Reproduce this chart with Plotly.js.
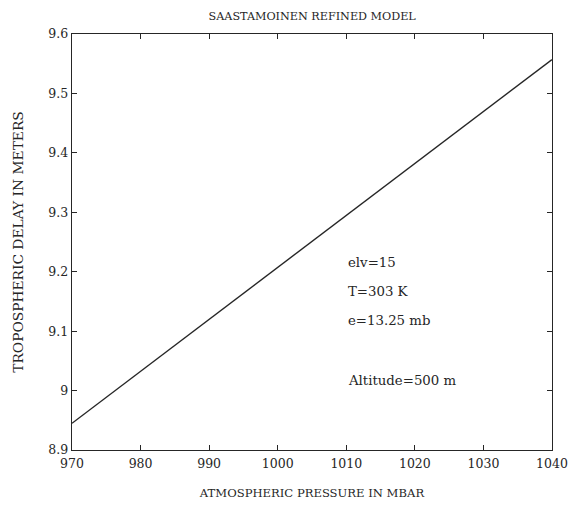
<!DOCTYPE html>
<html>
<head>
<meta charset="utf-8">
<script src="https://cdn.plot.ly/plotly-3.0.1.min.js"></script>
<style>html,body{margin:0;padding:0;background:#fff;}#chart{width:576px;height:511px;}</style>
</head>
<body>
<div id="chart"></div>
<script>
// Data
const pressure = [970, 1040];            // mbar
const delay = [8.945, 9.557];            // metres
const xTicks = [970, 980, 990, 1000, 1010, 1020, 1030, 1040];
const yTicks = [8.9, 9, 9.1, 9.2, 9.3, 9.4, 9.5, 9.6];
const yTickText = ['8.9', '9', '9.1', '9.2', '9.3', '9.4', '9.5', '9.6'];
const notes = ['elv=15', 'T=303 K', 'e=13.25 mb', 'Altitude=500 m'];
const noteY = [9.216, 9.166, 9.118, 9.017];

const ink = '#262626';
const serif = 'DejaVu Serif, Liberation Serif, serif';

const trace = {
  x: pressure, y: delay, type: 'scatter', mode: 'lines',
  line: {color: ink, width: 1.4}, hoverinfo: 'skip'
};

const axisCommon = {
  showgrid: false, zeroline: false, showline: true, mirror: 'ticks',
  linecolor: ink, linewidth: 1.4, ticks: 'inside', ticklen: 5,
  tickcolor: ink, tickwidth: 1.2,
  tickfont: {family: serif, size: 12.5, color: ink}
};

const layout = {
  width: 576, height: 511,
  margin: {l: 72, r: 24, t: 34, b: 61},
  paper_bgcolor: '#fff', plot_bgcolor: '#fff',
  showlegend: false,
  title: {text: 'SAASTAMOINEN REFINED MODEL', font: {family: serif, size: 11.2, color: ink},
          x: 0.542, xanchor: 'center', y: 0.968, yanchor: 'middle'},
  xaxis: Object.assign({}, axisCommon, {
    range: [970, 1040], tickvals: xTicks, ticktext: xTicks.map(String), ticklabelstandoff: 2,
    title: {text: 'ATMOSPHERIC PRESSURE IN MBAR', font: {family: serif, size: 11.6, color: ink}, standoff: 18}
  }),
  yaxis: Object.assign({}, axisCommon, {
    range: [8.9, 9.6], tickvals: yTicks, ticktext: yTickText,
    title: {text: 'TROPOSPHERIC DELAY IN METERS', font: {family: serif, size: 13.8, color: ink}, standoff: 21}
  }),
  annotations: notes.map((t, i) => ({
    text: t, x: 1010, y: noteY[i], xref: 'x', yref: 'y', xanchor: 'left', yanchor: 'middle',
    showarrow: false, font: {family: serif, size: 13.3, color: ink}
  }))
};

Plotly.newPlot('chart', [trace], layout, {displayModeBar: false, staticPlot: true});
</script>
</body>
</html>
